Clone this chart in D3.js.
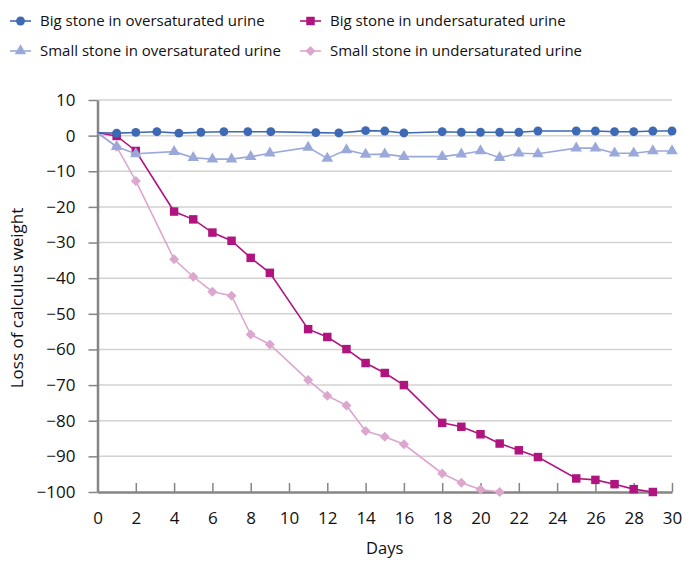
<!DOCTYPE html>
<html>
<head>
<meta charset="utf-8">
<script src="https://cdn.jsdelivr.net/npm/d3@7"></script>
<style>
  html, body { margin: 0; padding: 0; background: #ffffff; }
  svg { display: block; }
  text { font-family: "Open Sans", "Noto Sans", sans-serif; fill: #111; }
</style>
</head>
<body>
<svg id="chart" width="685" height="561"></svg>
<script>
// ---- Data ----
const seriesNames = [
  "Big stone in oversaturated urine",
  "Big stone in undersaturated urine",
  "Small stone in oversaturated urine",
  "Small stone in undersaturated urine"
];

// Big stone, oversaturated (blue circles)
const bigOverDays = [0, 1, 2, 3.1, 4.25, 5.4, 6.6, 7.85, 9.05, 11.4, 12.6, 14, 15, 16, 18, 19, 20, 21, 22, 23, 25, 26, 27, 28, 29, 30];
const bigOverVals = [0.8, 0.7, 0.9, 1.1, 0.7, 0.95, 1.1, 1.1, 1.1, 0.85, 0.75, 1.4, 1.3, 0.75, 1.1, 0.95, 0.95, 0.95, 0.95, 1.3, 1.3, 1.3, 1.1, 1.1, 1.3, 1.3];

// Small stone, oversaturated (light blue triangles)
const smallOverDays = [0, 1, 2, 4, 5, 6, 7, 8, 9, 11, 12, 13, 14, 15, 16, 18, 19, 20, 21, 22, 23, 25, 26, 27, 28, 29, 30];
const smallOverVals = [0.8, -3.1, -5.1, -4.5, -6.2, -6.6, -6.6, -5.9, -4.95, -3.3, -6.4, -4.0, -5.3, -5.2, -5.9, -5.9, -5.2, -4.3, -6.2, -4.95, -5.1, -3.5, -3.5, -4.95, -4.95, -4.3, -4.3];

// Big stone, undersaturated (magenta squares)
const bigUnderDays = [0, 1, 2, 4, 5, 6, 7, 8, 9, 11, 12, 13, 14, 15, 16, 18, 19, 20, 21, 22, 23, 25, 26, 27, 28, 29];
const bigUnderVals = [0.8, -0.1, -4.3, -21.3, -23.5, -27.2, -29.5, -34.3, -38.5, -54.3, -56.5, -59.9, -63.8, -66.6, -70.0, -80.6, -81.7, -83.8, -86.4, -88.3, -90.2, -96.2, -96.6, -97.8, -99.2, -100];

// Small stone, undersaturated (pink diamonds)
const smallUnderDays = [0, 1, 2, 4, 5, 6, 7, 8, 9, 11, 12, 13, 14, 15, 16, 18, 19, 20, 21];
const smallUnderVals = [0.8, -3.1, -12.7, -34.7, -39.6, -43.8, -44.9, -55.8, -58.6, -68.6, -73.0, -75.7, -82.9, -84.5, -86.6, -94.8, -97.4, -99.3, -100];

const xTicks = [0, 2, 4, 6, 8, 10, 12, 14, 16, 18, 20, 22, 24, 26, 28, 30];
const yTicks = [10, 0, -10, -20, -30, -40, -50, -60, -70, -80, -90, -100];
const xTitle = "Days";
const yTitle = "Loss of calculus weight";

// ---- Styles ----
const colors = {
  bigOver: "#3d69b5",
  smallOver: "#9aa9d9",
  bigUnder: "#b0157f",
  smallUnder: "#dca6cf"
};

const series = [
  { key: "bigOver", name: seriesNames[0], days: bigOverDays, vals: bigOverVals, symbol: d3.symbolCircle, size: 62, rot: 0 },
  { key: "bigUnder", name: seriesNames[1], days: bigUnderDays, vals: bigUnderVals, symbol: d3.symbolSquare, size: 72, rot: 0 },
  { key: "smallOver", name: seriesNames[2], days: smallOverDays, vals: smallOverVals, symbol: d3.symbolTriangle, size: 58, rot: 0 },
  { key: "smallUnder", name: seriesNames[3], days: smallUnderDays, vals: smallUnderVals, symbol: d3.symbolSquare, size: 50, rot: 45 }
];

const svg = d3.select("#chart");
const L = 97.5, R = 672, T = 100, B = 492;

const x = d3.scaleLinear().domain([0, 30]).range([L, R]);
const y = d3.scaleLinear().domain([-100, 10]).range([B, T]);

// gridlines
svg.append("g")
  .selectAll("line")
  .data(yTicks.filter(v => v > -100))
  .join("line")
  .attr("x1", L).attr("x2", R)
  .attr("y1", d => y(d)).attr("y2", d => y(d))
  .attr("stroke", "#d2d2d2")
  .attr("stroke-width", 1.5);

// y axis
const yAxis = svg.append("g")
  .attr("transform", `translate(${L},0)`)
  .call(d3.axisLeft(y).tickValues(yTicks).tickSize(9).tickPadding(13).tickSizeOuter(0).tickFormat(d => d === 0 ? "0" : d3.format("d")(d).replace("-", "\u2212")));
yAxis.select(".domain").attr("stroke", "#858585").attr("stroke-width", 2.5);
yAxis.selectAll(".tick line").attr("stroke", "#858585").attr("stroke-width", 1.5);
yAxis.selectAll("text").attr("font-size", 17).attr("font-family", "Open Sans").attr("fill", "#000");

// x axis
const xAxis = svg.append("g")
  .attr("transform", `translate(0,${B})`)
  .call(d3.axisBottom(x).tickValues(xTicks).tickSize(-9).tickPadding(20).tickSizeOuter(0));
xAxis.select(".domain").attr("stroke", "#858585").attr("stroke-width", 2.5);
xAxis.selectAll(".tick line").attr("stroke", "#858585").attr("stroke-width", 1.5);
xAxis.selectAll("text").attr("font-size", 17).attr("font-family", "Open Sans").attr("fill", "#000");

// lines + markers
const line = d3.line().x(d => x(d[0])).y(d => y(d[1]));
const drawOrder = ["smallUnder", "bigUnder", "smallOver", "bigOver"];
drawOrder.forEach(k => {
  const s = series.find(q => q.key === k);
  const pts = s.days.map((d, i) => [d, s.vals[i]]);
  svg.append("path")
    .datum(pts)
    .attr("d", line)
    .attr("fill", "none")
    .attr("stroke", colors[k])
    .attr("stroke-width", 1.6);
  svg.append("g")
    .selectAll("path")
    .data(pts.filter(p => p[0] > 0))
    .join("path")
    .attr("transform", p => `translate(${x(p[0])},${y(p[1])}) rotate(${s.rot})`)
    .attr("d", d3.symbol().type(s.symbol).size(s.size))
    .attr("fill", colors[k]);
});

// axis titles
svg.append("text")
  .attr("x", x(15)).attr("y", 554)
  .attr("text-anchor", "middle")
  .attr("font-size", 16.5)
  .text(xTitle);
svg.append("text")
  .attr("transform", `translate(23,${298}) rotate(-90)`)
  .attr("text-anchor", "middle")
  .attr("font-size", 17)
  .text(yTitle);

// legend
const legendItems = [
  { s: series[0], lx: 10, ly: 21 },
  { s: series[1], lx: 300, ly: 21 },
  { s: series[2], lx: 10, ly: 51 },
  { s: series[3], lx: 300, ly: 51 }
];
const lg = svg.append("g");
legendItems.forEach(it => {
  const g = lg.append("g").attr("transform", `translate(${it.lx},${it.ly})`);
  g.append("line").attr("x1", 0).attr("x2", 21).attr("y1", 0).attr("y2", 0)
    .attr("stroke", colors[it.s.key]).attr("stroke-width", 1.6);
  g.append("path").attr("transform", `translate(10.5,0) rotate(${it.s.rot})`)
    .attr("d", d3.symbol().type(it.s.symbol).size(it.s.size))
    .attr("fill", colors[it.s.key]);
  g.append("text").attr("x", 30).attr("y", 0).attr("dy", "0.36em")
    .attr("font-size", 15).text(it.s.name);
});
</script>
</body>
</html>
